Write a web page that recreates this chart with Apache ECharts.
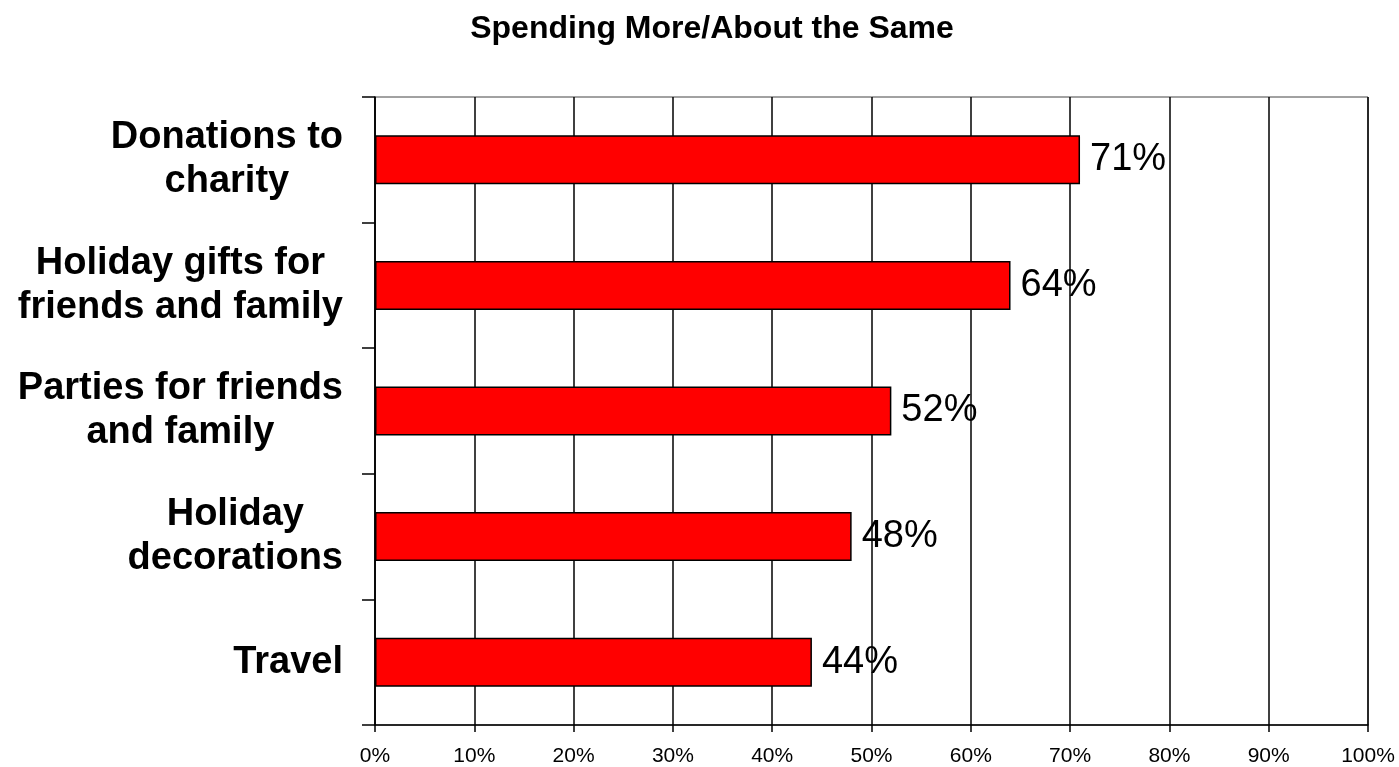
<!DOCTYPE html>
<html>
<head>
<meta charset="utf-8">
<script src="https://cdn.jsdelivr.net/npm/echarts@6/dist/echarts.min.js"></script>
<style>
  html, body { margin: 0; padding: 0; background: #ffffff; }
  #chart { width: 1399px; height: 767px; }
</style>
</head>
<body>
<div id="chart"></div>
<script>
// Survey categories, listed top to bottom
const categories = [
  'Donations to\ncharity',
  'Holiday gifts for\nfriends and family',
  'Parties for friends\nand family',
  'Holiday\ndecorations',
  'Travel'
];
// Share answering "spending more / about the same" (percent)
const values = [71, 64, 52, 48, 44];
// Horizontal axis ticks (percent)
const xTicks = [0, 10, 20, 30, 40, 50, 60, 70, 80, 90, 100];

const FONT = '"Liberation Sans", Arial, Helvetica, sans-serif';

const chart = echarts.init(document.getElementById('chart'), null, { renderer: 'canvas' });

chart.setOption({
  backgroundColor: '#ffffff',
  animation: false,
  title: {
    text: 'Spending More/About the Same',
    left: 707,
    top: 8,
    textAlign: 'center',
    textStyle: { fontFamily: FONT, fontWeight: 'bold', fontSize: 32, color: '#000000' }
  },
  grid: {
    left: 375,
    right: 31,
    top: 97,
    bottom: 40,
    show: true,
    borderColor: '#444444',
    borderWidth: 1,
    backgroundColor: 'transparent'
  },
  xAxis: {
    type: 'value',
    min: xTicks[0],
    max: xTicks[xTicks.length - 1],
    interval: xTicks[1] - xTicks[0],
    axisLine: { show: true, lineStyle: { color: '#000000', width: 1.5 } },
    axisTick: { show: true, length: 7, inside: false, lineStyle: { color: '#000000', width: 1.5 } },
    axisLabel: {
      margin: 21,
      fontFamily: FONT,
      fontSize: 21,
      color: '#000000',
      formatter: v => v + '%'
    },
    splitLine: { show: true, lineStyle: { color: '#000000', width: 1.5 } }
  },
  yAxis: {
    type: 'category',
    data: categories,
    inverse: true,
    boundaryGap: true,
    axisLine: { show: true, lineStyle: { color: '#000000', width: 1.5 } },
    axisTick: { show: true, length: 13, inside: false, lineStyle: { color: '#000000', width: 1.5 } },
    axisLabel: {
      margin: 32,
      align: 'right',
      // each line centred within the label block
      formatter: v => v.split('\n').map(s => '{c|' + s + '}').join('\n'),
      rich: {
        c: {
          align: 'center',
          fontFamily: FONT,
          fontWeight: 'bold',
          fontSize: 38,
          lineHeight: 44,
          color: '#000000'
        }
      }
    },
    splitLine: { show: false }
  },
  series: [{
    type: 'bar',
    data: values,
    barWidth: '39%',
    itemStyle: { color: '#ff0000', borderColor: '#000000', borderWidth: 1.5 },
    label: {
      show: true,
      position: 'right',
      distance: 10,
      fontFamily: FONT,
      fontSize: 38,
      color: '#000000',
      formatter: p => p.value + '%'
    },
    z: 3
  }]
});
</script>
</body>
</html>
